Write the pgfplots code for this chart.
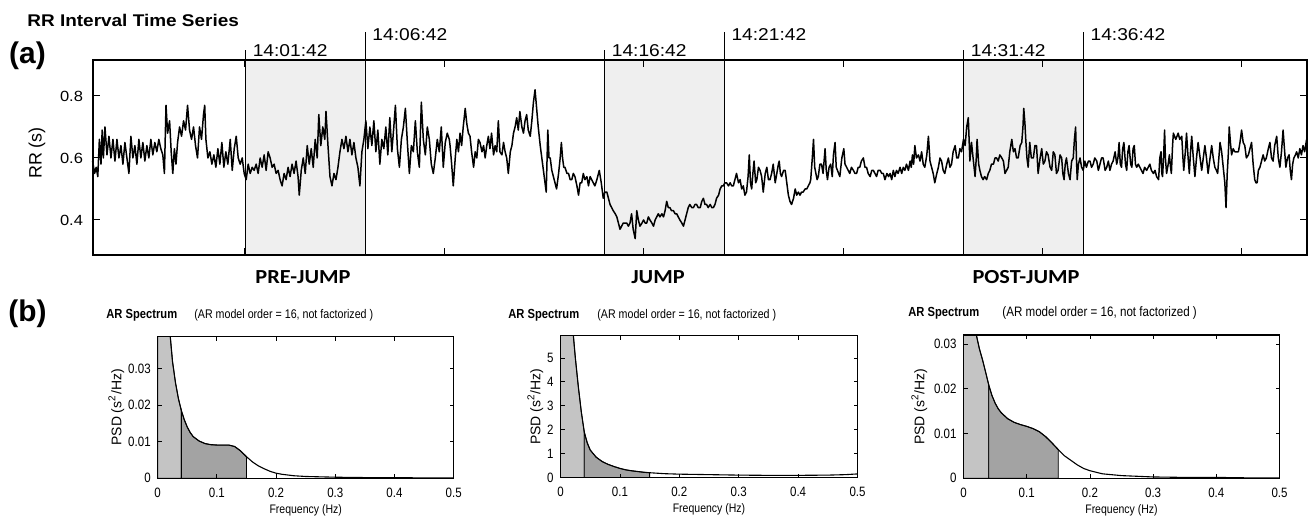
\documentclass[border=0pt]{standalone}
\usepackage{fontspec}
\setmainfont{Liberation Sans}[FakeStretch=1.12]
\newfontfamily\plainsf{Liberation Sans}
\newfontfamily\narrowsf{Liberation Sans}[FakeStretch=0.85]
\newfontfamily\calsf{Carlito}[FakeStretch=1.12]
\usepackage{pgfplots}
\usepackage{pgfplotstable}
\pgfplotsset{compat=1.18}
\definecolor{winfill}{gray}{0.937}
\definecolor{vlf}{gray}{0.77}
\definecolor{lf}{gray}{0.64}

% AR spectra (frequency in Hz, PSD in s^2/Hz)
\pgfplotstableread{
f psd
0.000 0.200
0.005 0.150
0.010 0.080
0.015 0.055
0.020 0.041
0.025 0.032
0.030 0.0262
0.035 0.0218
0.040 0.0185
0.045 0.0160
0.050 0.0140
0.055 0.0125
0.060 0.0114
0.070 0.0102
0.080 0.0095
0.090 0.0092
0.100 0.0091
0.110 0.0091
0.120 0.0091
0.130 0.0087
0.140 0.0075
0.150 0.0059
0.160 0.0045
0.170 0.0034
0.180 0.0026
0.190 0.0019
0.200 0.0014
0.210 0.0011
0.230 0.0007
0.250 0.0005
0.300 0.0003
0.350 0.0002
0.400 0.0002
0.450 0.0001
0.500 0.0001
}\psdpre

\pgfplotstableread{
f psd
0.000 30.0
0.005 20.0
0.010 12.0
0.015 8.5
0.020 6.4
0.025 5.0
0.030 3.8
0.035 2.75
0.040 1.90
0.045 1.45
0.050 1.15
0.060 0.85
0.070 0.67
0.080 0.55
0.090 0.46
0.100 0.38
0.110 0.32
0.120 0.28
0.130 0.25
0.140 0.22
0.150 0.20
0.175 0.16
0.200 0.14
0.250 0.12
0.300 0.10
0.350 0.09
0.400 0.09
0.450 0.10
0.480 0.12
0.500 0.15
}\psdjump

\pgfplotstableread{
f psd
0.000 0.200
0.005 0.120
0.010 0.070
0.015 0.045
0.018 0.036
0.020 0.0322
0.025 0.0290
0.030 0.0265
0.035 0.0237
0.040 0.0208
0.045 0.0185
0.050 0.0168
0.055 0.0155
0.060 0.0146
0.070 0.0133
0.080 0.0125
0.090 0.0120
0.100 0.0116
0.110 0.0111
0.120 0.0104
0.130 0.0093
0.140 0.0079
0.150 0.0064
0.160 0.0050
0.170 0.0040
0.180 0.0030
0.190 0.0022
0.200 0.0017
0.220 0.0010
0.250 0.0006
0.300 0.0003
0.350 0.0002
0.400 0.0002
0.450 0.0001
0.500 0.0001
}\psdpost

\pgfplotsset{
  psdpanel/.style={
    scale only axis, axis on top,
    xmin=0, xmax=0.5, ymin=0,
    xtick={0,0.1,0.2,0.3,0.4,0.5},
    tick align=inside, major tick length=2bp,
    xtick pos=both, ytick pos=both, ticklabel pos=left,
    tick style={black, line width=0.4bp},
    axis line style={line width=0.6bp},
    /pgf/number format/assume math mode=true,
    scaled ticks=false,
    tick label style={font=\narrowsf\fontsize{6.8}{7}\selectfont},
    xticklabel style={/pgf/number format/fixed, /pgf/number format/precision=1, yshift=-1.2bp},
    yticklabel style={/pgf/number format/fixed, /pgf/number format/precision=2},
    xlabel={Frequency (Hz)},
    xlabel style={font=\narrowsf\fontsize{6.2}{7}\selectfont, at={(axis description cs:0.5,0)}, anchor=center, yshift=-16bp},
    ylabel={PSD (s\textsuperscript{2}/Hz)},
  },
  vlfband/.style={fill=vlf, draw=black, line width=0.4bp, restrict x to domain=0:0.0401},
  lfband/.style={fill=lf, draw=black, line width=0.4bp, restrict x to domain=0.0399:0.1501},
  psdline/.style={black, line width=0.55bp},
}

\begin{document}
\begin{tikzpicture}
\useasboundingbox (0,0) rectangle (657bp,-260bp);

% ---- (a) RR interval time series ----
\node[anchor=west, inner sep=0, font=\bfseries\fontsize{8.5}{10}\selectfont] at (13.5bp,-10bp) {RR Interval Time Series};
\node[font=\plainsf\bfseries\fontsize{15}{16}\selectfont] at (13.75bp,-28bp) {(a)};
\node[rotate=90, font=\plainsf\fontsize{9}{10}\selectfont] at (18.5bp,-76.5bp) {RR (s)};

\begin{axis}[
  at={(46.5bp,-30bp)}, anchor=north west,
  scale only axis, width=607bp, height=97.5bp,
  xmin=120, xmax=3163, ymin=0.287, ymax=0.916,
  xtick={500,1000,1500,2000,2500,3000}, xticklabels={},
  ytick={0.4,0.6,0.8},
  tick align=inside, major tick length=3.5bp,
  xtick pos=both, ytick pos=both, ticklabel pos=left,
  tick style={black, line width=0.5bp},
  axis line style={line width=0.6bp},
  /pgf/number format/assume math mode=true,
  yticklabel style={font=\fontsize{7.4}{9}\selectfont, /pgf/number format/fixed, /pgf/number format/precision=1, xshift=-1.5bp},
  axis on top, clip=false,
]
\fill[winfill] (axis cs:502,0.287) rectangle (axis cs:802,0.916);
\fill[winfill] (axis cs:1402,0.287) rectangle (axis cs:1702,0.916);
\fill[winfill] (axis cs:2302,0.287) rectangle (axis cs:2602,0.916);

\addplot[black, line width=0.75bp, line join=round] coordinates {
(119,0.59) (124,0.55) (128,0.57) (132,0.54) (136,0.66) (140,0.58) (143,0.69) (146,0.60) (150,0.70) (155,0.61)
(160,0.67) (165,0.60) (170,0.66) (175,0.59) (180,0.66) (185,0.60) (190,0.64) (195,0.58) (200,0.65) (205,0.60)
(210,0.55) (215,0.67) (220,0.60) (225,0.64) (230,0.58) (235,0.66) (240,0.60) (245,0.65) (250,0.59) (255,0.64)
(260,0.60) (265,0.66) (270,0.61) (275,0.65) (280,0.62) (285,0.66) (290,0.63) (295,0.61) (299,0.55) (303,0.77)
(307,0.68) (312,0.72) (316,0.62) (320,0.55) (324,0.63) (328,0.58) (332,0.65) (337,0.70) (342,0.67) (347,0.72)
(352,0.69) (357,0.77) (362,0.69) (367,0.66) (372,0.70) (377,0.64) (382,0.60) (387,0.70) (392,0.66) (397,0.74)
(400,0.77) (403,0.66) (408,0.60) (413,0.62) (418,0.58) (423,0.61) (428,0.57) (433,0.63) (438,0.58) (443,0.65)
(448,0.57) (453,0.62) (458,0.58) (464,0.66) (469,0.56) (474,0.63) (479,0.67) (484,0.60) (489,0.58) (494,0.60)
(499,0.55) (504,0.53) (509,0.58) (514,0.55) (519,0.57) (524,0.56) (529,0.58) (534,0.55) (539,0.60) (544,0.57)
(549,0.61) (554,0.56) (559,0.62) (564,0.60) (569,0.57) (574,0.58) (579,0.55) (584,0.56) (589,0.53) (594,0.51)
(599,0.55) (604,0.53) (609,0.57) (614,0.54) (619,0.58) (624,0.55) (629,0.59) (634,0.54) (637,0.48) (642,0.56)
(647,0.60) (652,0.55) (657,0.64) (662,0.58) (667,0.63) (672,0.57) (677,0.66) (682,0.60) (686,0.74) (691,0.64)
(696,0.70) (701,0.66) (704,0.75) (709,0.64) (714,0.54) (719,0.51) (724,0.55) (729,0.53) (734,0.57) (739,0.62)
(744,0.66) (749,0.63) (754,0.67) (759,0.62) (764,0.66) (769,0.61) (774,0.65) (779,0.60) (784,0.57) (789,0.51)
(794,0.62) (799,0.66) (804,0.72) (809,0.63) (814,0.70) (819,0.64) (824,0.72) (829,0.62) (834,0.69) (839,0.58)
(844,0.66) (849,0.63) (854,0.70) (859,0.61) (864,0.73) (869,0.62) (874,0.70) (878,0.77) (883,0.63) (888,0.57)
(893,0.66) (898,0.70) (903,0.76) (908,0.65) (913,0.55) (918,0.64) (923,0.62) (928,0.72) (933,0.62) (938,0.57)
(943,0.78) (948,0.66) (953,0.61) (958,0.70) (963,0.66) (968,0.58) (973,0.55) (978,0.60) (983,0.66) (988,0.62)
(993,0.70) (998,0.57) (1003,0.65) (1008,0.68) (1013,0.66)
(1015,0.64) (1019,0.58) (1023,0.51) (1028,0.60) (1032,0.66) (1036,0.62) (1040,0.68) (1044,0.64) (1048,0.70) (1053,0.76)
(1057,0.71) (1061,0.68) (1065,0.67) (1069,0.62) (1074,0.57) (1078,0.62) (1082,0.60) (1086,0.66) (1090,0.65) (1095,0.62)
(1099,0.64) (1103,0.60) (1107,0.64) (1111,0.67) (1115,0.63) (1119,0.68) (1124,0.61) (1128,0.64) (1132,0.62) (1136,0.72)
(1140,0.62) (1145,0.61) (1149,0.65) (1153,0.62) (1157,0.60) (1161,0.55) (1166,0.62) (1170,0.64) (1174,0.68) (1178,0.70)
(1182,0.73) (1186,0.69) (1190,0.75) (1195,0.70) (1199,0.68) (1203,0.72) (1207,0.74) (1211,0.69) (1216,0.67) (1220,0.72)
(1224,0.78) (1228,0.82) (1232,0.76) (1236,0.70) (1241,0.64) (1245,0.60) (1249,0.56) (1253,0.52) (1256,0.49) (1260,0.69)
(1263,0.60) (1266,0.60) (1270,0.56) (1274,0.54) (1278,0.52) (1282,0.50) (1287,0.55) (1291,0.60) (1294,0.65) (1297,0.60)
(1300,0.57) (1303,0.57) (1308,0.55) (1312,0.55) (1316,0.53) (1320,0.53) (1324,0.55) (1328,0.54) (1333,0.51) (1337,0.48)
(1341,0.52) (1345,0.52) (1349,0.55) (1353,0.53) (1358,0.54) (1362,0.51) (1366,0.54) (1370,0.53) (1374,0.52) (1378,0.51)
(1383,0.53) (1389,0.56) (1394,0.52) (1399,0.47) (1403,0.49) (1408,0.49) (1412,0.47) (1416,0.45) (1420,0.44) (1424,0.43)
(1429,0.42) (1433,0.41) (1437,0.39) (1441,0.37) (1445,0.38) (1449,0.39) (1454,0.39) (1458,0.39) (1462,0.38) (1466,0.39)
(1470,0.42) (1474,0.37) (1479,0.34) (1483,0.43) (1487,0.40) (1491,0.38) (1496,0.39) (1500,0.40) (1504,0.39) (1508,0.39)
(1512,0.41) (1516,0.40) (1521,0.39) (1525,0.38) (1529,0.40) (1533,0.41) (1537,0.42) (1541,0.41) (1546,0.42) (1550,0.41)
(1554,0.43) (1558,0.46) (1562,0.44) (1566,0.44) (1570,0.43) (1575,0.43) (1579,0.42) (1583,0.42) (1587,0.41) (1591,0.40)
(1596,0.39) (1600,0.38) (1604,0.40) (1608,0.42) (1612,0.44) (1616,0.45) (1621,0.44) (1625,0.44) (1629,0.45) (1633,0.45)
(1637,0.44) (1642,0.44) (1646,0.46) (1650,0.47) (1654,0.45) (1658,0.45) (1662,0.44) (1667,0.45) (1671,0.44) (1675,0.44)
(1679,0.45) (1683,0.47) (1688,0.48) (1692,0.50) (1696,0.51) (1700,0.51) (1704,0.52) (1708,0.52) (1713,0.51) (1717,0.52)
(1721,0.51) (1725,0.51) (1729,0.53) (1733,0.55) (1738,0.52) (1742,0.53) (1746,0.50) (1750,0.51) (1754,0.48) (1758,0.49)
(1762,0.54) (1765,0.61) (1768,0.52) (1771,0.50) (1774,0.55) (1777,0.59) (1781,0.52) (1784,0.53) (1788,0.57) (1792,0.56)
(1796,0.54) (1800,0.49) (1805,0.55) (1809,0.57) (1813,0.53) (1817,0.53) (1821,0.55) (1825,0.58) (1830,0.52) (1834,0.55)
(1838,0.58) (1840,0.59) (1843,0.55) (1846,0.54) (1851,0.56) (1855,0.56) (1859,0.52) (1863,0.48) (1867,0.46) (1871,0.45)
(1876,0.47) (1880,0.50) (1884,0.48) (1888,0.49) (1892,0.48) (1896,0.49) (1900,0.49) (1905,0.50) (1909,0.50) (1913,0.51)
(1917,0.52) (1919,0.53) (1923,0.60) (1926,0.66) (1929,0.57) (1932,0.55) (1935,0.53) (1938,0.54) (1942,0.58) (1946,0.58)
(1950,0.55) (1955,0.63) (1958,0.56) (1961,0.53) (1965,0.57) (1969,0.58) (1973,0.54) (1976,0.61) (1980,0.65) (1983,0.57)
(1986,0.56) (1989,0.55) (1992,0.54) (1997,0.60) (2002,0.63) (2005,0.58) (2009,0.57) (2013,0.56) (2017,0.55) (2021,0.57)
(2026,0.56) (2030,0.55) (2034,0.55) (2038,0.57) (2042,0.57) (2046,0.59) (2051,0.60) (2055,0.57) (2059,0.57) (2063,0.55)
(2068,0.54) (2072,0.56) (2076,0.56) (2080,0.55) (2084,0.54) (2088,0.56) (2093,0.56) (2097,0.55) (2101,0.55) (2105,0.53)
(2110,0.55) (2114,0.54) (2118,0.55) (2122,0.53) (2126,0.56) (2130,0.54) (2134,0.56) (2138,0.55) (2143,0.57) (2147,0.55)
(2151,0.57) (2155,0.56) (2159,0.58) (2164,0.56) (2168,0.59) (2171,0.57) (2174,0.61) (2177,0.58) (2180,0.64) (2184,0.60)
(2189,0.61) (2193,0.59) (2197,0.62) (2201,0.58) (2205,0.57) (2210,0.61) (2214,0.67) (2218,0.59) (2222,0.57) (2226,0.55)
(2230,0.52) (2235,0.55) (2239,0.57) (2243,0.60) (2247,0.59) (2251,0.56) (2255,0.55) (2260,0.58) (2264,0.60) (2268,0.57)
(2272,0.58) (2276,0.62) (2281,0.64) (2285,0.60) (2289,0.60) (2293,0.63) (2297,0.62) (2302,0.66) (2306,0.64) (2310,0.70)
(2314,0.73) (2318,0.59) (2322,0.65) (2326,0.60) (2331,0.54) (2334,0.60) (2336,0.66) (2340,0.58) (2343,0.56) (2347,0.54)
(2351,0.53) (2355,0.54) (2360,0.53) (2364,0.55) (2368,0.56) (2372,0.58) (2377,0.58) (2381,0.60) (2385,0.60) (2389,0.59)
(2393,0.61) (2398,0.60) (2402,0.59) (2406,0.55) (2410,0.56) (2414,0.57) (2418,0.62) (2423,0.66) (2427,0.62) (2431,0.63)
(2435,0.60) (2439,0.60) (2444,0.64) (2448,0.65) (2451,0.70) (2453,0.76) (2456,0.71) (2458,0.66) (2461,0.60) (2464,0.57)
(2468,0.65) (2472,0.60) (2477,0.60) (2481,0.64) (2485,0.64) (2489,0.55) (2494,0.60) (2498,0.63) (2502,0.58) (2506,0.59)
(2510,0.62) (2514,0.61) (2519,0.57) (2523,0.56) (2527,0.62) (2531,0.61) (2535,0.55) (2539,0.56) (2544,0.61) (2548,0.60)
(2551,0.55) (2554,0.53) (2557,0.58) (2560,0.60) (2565,0.55) (2569,0.53) (2573,0.59) (2577,0.60) (2580,0.66) (2583,0.70)
(2585,0.60) (2587,0.53) (2590,0.58) (2594,0.60) (2598,0.57) (2602,0.56) (2606,0.59) (2610,0.57) (2615,0.59) (2619,0.59)
(2623,0.57) (2627,0.58) (2631,0.60) (2636,0.59) (2640,0.56) (2644,0.58) (2648,0.60) (2652,0.60) (2657,0.56) (2661,0.57)
(2665,0.59) (2669,0.56) (2673,0.58) (2677,0.59) (2682,0.62) (2686,0.58) (2689,0.60) (2692,0.65) (2695,0.58) (2698,0.57)
(2701,0.63) (2704,0.65) (2708,0.58) (2711,0.56) (2714,0.62) (2717,0.64) (2721,0.58) (2724,0.57) (2727,0.63) (2730,0.64)
(2733,0.58) (2736,0.57) (2740,0.58) (2744,0.57) (2748,0.56) (2752,0.55) (2756,0.57) (2761,0.56) (2765,0.57) (2769,0.58)
(2773,0.56) (2778,0.55) (2782,0.56) (2786,0.54) (2791,0.53) (2794,0.60) (2797,0.62) (2799,0.55) (2801,0.54) (2804,0.62)
(2806,0.69) (2808,0.60) (2811,0.55) (2815,0.58) (2818,0.61) (2821,0.57) (2823,0.55) (2826,0.64) (2828,0.68) (2831,0.67)
(2834,0.66) (2837,0.67) (2840,0.68) (2844,0.66) (2849,0.67) (2852,0.60) (2854,0.56) (2858,0.62) (2861,0.68) (2865,0.60)
(2868,0.55) (2871,0.62) (2874,0.67) (2878,0.60) (2882,0.54) (2886,0.60) (2890,0.65) (2895,0.60) (2899,0.56) (2903,0.60)
(2907,0.64) (2911,0.60) (2915,0.55) (2920,0.60) (2924,0.64) (2928,0.60) (2932,0.57) (2936,0.56) (2939,0.55) (2942,0.60)
(2945,0.65) (2949,0.62) (2953,0.57) (2957,0.52) (2960,0.44) (2963,0.55) (2966,0.62) (2968,0.70) (2971,0.65) (2974,0.61)
(2978,0.63) (2982,0.62) (2986,0.62) (2991,0.62) (2995,0.65) (2999,0.69) (3003,0.65) (3007,0.64) (3011,0.60) (3016,0.61)
(3020,0.63) (3024,0.65) (3028,0.58) (3032,0.53) (3035,0.52) (3038,0.52) (3041,0.56) (3045,0.57) (3049,0.59) (3053,0.61)
(3057,0.59) (3061,0.60) (3066,0.63) (3070,0.65) (3074,0.60) (3078,0.59) (3082,0.64) (3087,0.67) (3091,0.60) (3095,0.57)
(3099,0.62) (3103,0.69) (3107,0.62) (3110,0.57) (3114,0.60) (3118,0.61) (3121,0.56) (3124,0.53) (3127,0.58) (3130,0.60)
(3134,0.61) (3137,0.62) (3141,0.60) (3145,0.63) (3149,0.61) (3153,0.64) (3157,0.62) (3162,0.66)
};

% window boundaries and clock times
\draw[line width=0.5bp] (axis cs:502,0.287) -- (axis cs:502,0.948);
\draw[line width=0.5bp] (axis cs:802,0.287) -- (axis cs:802,1.006);
\draw[line width=0.5bp] (axis cs:1402,0.287) -- (axis cs:1402,0.948);
\draw[line width=0.5bp] (axis cs:1702,0.287) -- (axis cs:1702,1.006);
\draw[line width=0.5bp] (axis cs:2302,0.287) -- (axis cs:2302,0.948);
\draw[line width=0.5bp] (axis cs:2602,0.287) -- (axis cs:2602,1.006);
\tikzset{clock/.style={anchor=west, inner sep=0, xshift=3.5bp, font=\fontsize{8.6}{10}\selectfont}}
\node[clock] at (axis cs:502,0.945) {14:01:42};
\node[clock] at (axis cs:802,0.998) {14:06:42};
\node[clock] at (axis cs:1402,0.945) {14:16:42};
\node[clock] at (axis cs:1702,0.998) {14:21:42};
\node[clock] at (axis cs:2302,0.945) {14:31:42};
\node[clock] at (axis cs:2602,0.998) {14:36:42};
\end{axis}

\tikzset{phase/.style={font=\calsf\bfseries\fontsize{10}{12}\selectfont}}
\node[phase] at (151.5bp,-138.5bp) {PRE-JUMP};
\node[phase] at (329bp,-138.5bp) {JUMP};
\node[phase] at (513bp,-138.5bp) {POST-JUMP};

% ---- (b) AR spectra ----
\node[font=\plainsf\bfseries\fontsize{15}{16}\selectfont] at (13.75bp,-157bp) {(b)};
\tikzset{
  arhead/.style={anchor=west, inner sep=0, font=\narrowsf\bfseries\fontsize{6.6}{8}\selectfont},
  arnote/.style={anchor=west, inner sep=0, font=\narrowsf\fontsize{6.3}{8}\selectfont},
}
\node[arhead] at (53bp,-157.5bp) {AR Spectrum};
\node[arnote] at (97bp,-157.5bp) {(AR model order = 16, not factorized )};
\node[arhead] at (254bp,-157.5bp) {AR Spectrum};
\node[arnote] at (298.5bp,-157.5bp) {(AR model order = 16, not factorized )};
\node[arhead] at (454bp,-156.5bp) {AR Spectrum};
\node[arnote, font=\narrowsf\fontsize{6.85}{8}\selectfont] at (501bp,-156.5bp) {(AR model order = 16, not factorized )};

\begin{axis}[psdpanel,
  at={(78.85bp,-168.25bp)}, anchor=north west, width=148bp, height=70.9bp,
  ymax=0.0388, ytick={0,0.01,0.02,0.03},
  ylabel style={font=\plainsf\fontsize{7}{8}\selectfont, at={(axis description cs:-0.14,0.5)}, anchor=center},
]
\addplot[vlfband] table[x=f,y=psd] {\psdpre} \closedcycle;
\addplot[lfband] table[x=f,y=psd] {\psdpre} \closedcycle;
\addplot[psdline] table[x=f,y=psd] {\psdpre};
\end{axis}

\begin{axis}[psdpanel,
  at={(280.25bp,-167.85bp)}, anchor=north west, width=148.5bp, height=70.9bp,
  ymax=5.93, ytick={0,1,2,3,4,5},
  yticklabel style={/pgf/number format/precision=0},
  ylabel style={font=\plainsf\fontsize{7}{8}\selectfont, at={(axis description cs:-0.085,0.5)}, anchor=center},
]
\addplot[vlfband] table[x=f,y=psd] {\psdjump} \closedcycle;
\addplot[lfband] table[x=f,y=psd] {\psdjump} \closedcycle;
\addplot[psdline] table[x=f,y=psd] {\psdjump};
\end{axis}

\begin{axis}[psdpanel,
  at={(481.75bp,-167.5bp)}, anchor=north west, width=158bp, height=71.65bp,
  ymax=0.032, ytick={0,0.01,0.02,0.03},
  ylabel style={font=\plainsf\fontsize{7}{8}\selectfont, at={(axis description cs:-0.14,0.5)}, anchor=center},
]
\addplot[vlfband] table[x=f,y=psd] {\psdpost} \closedcycle;
\addplot[lfband] table[x=f,y=psd] {\psdpost} \closedcycle;
\addplot[psdline] table[x=f,y=psd] {\psdpost};
\end{axis}
\end{tikzpicture}
\end{document}
